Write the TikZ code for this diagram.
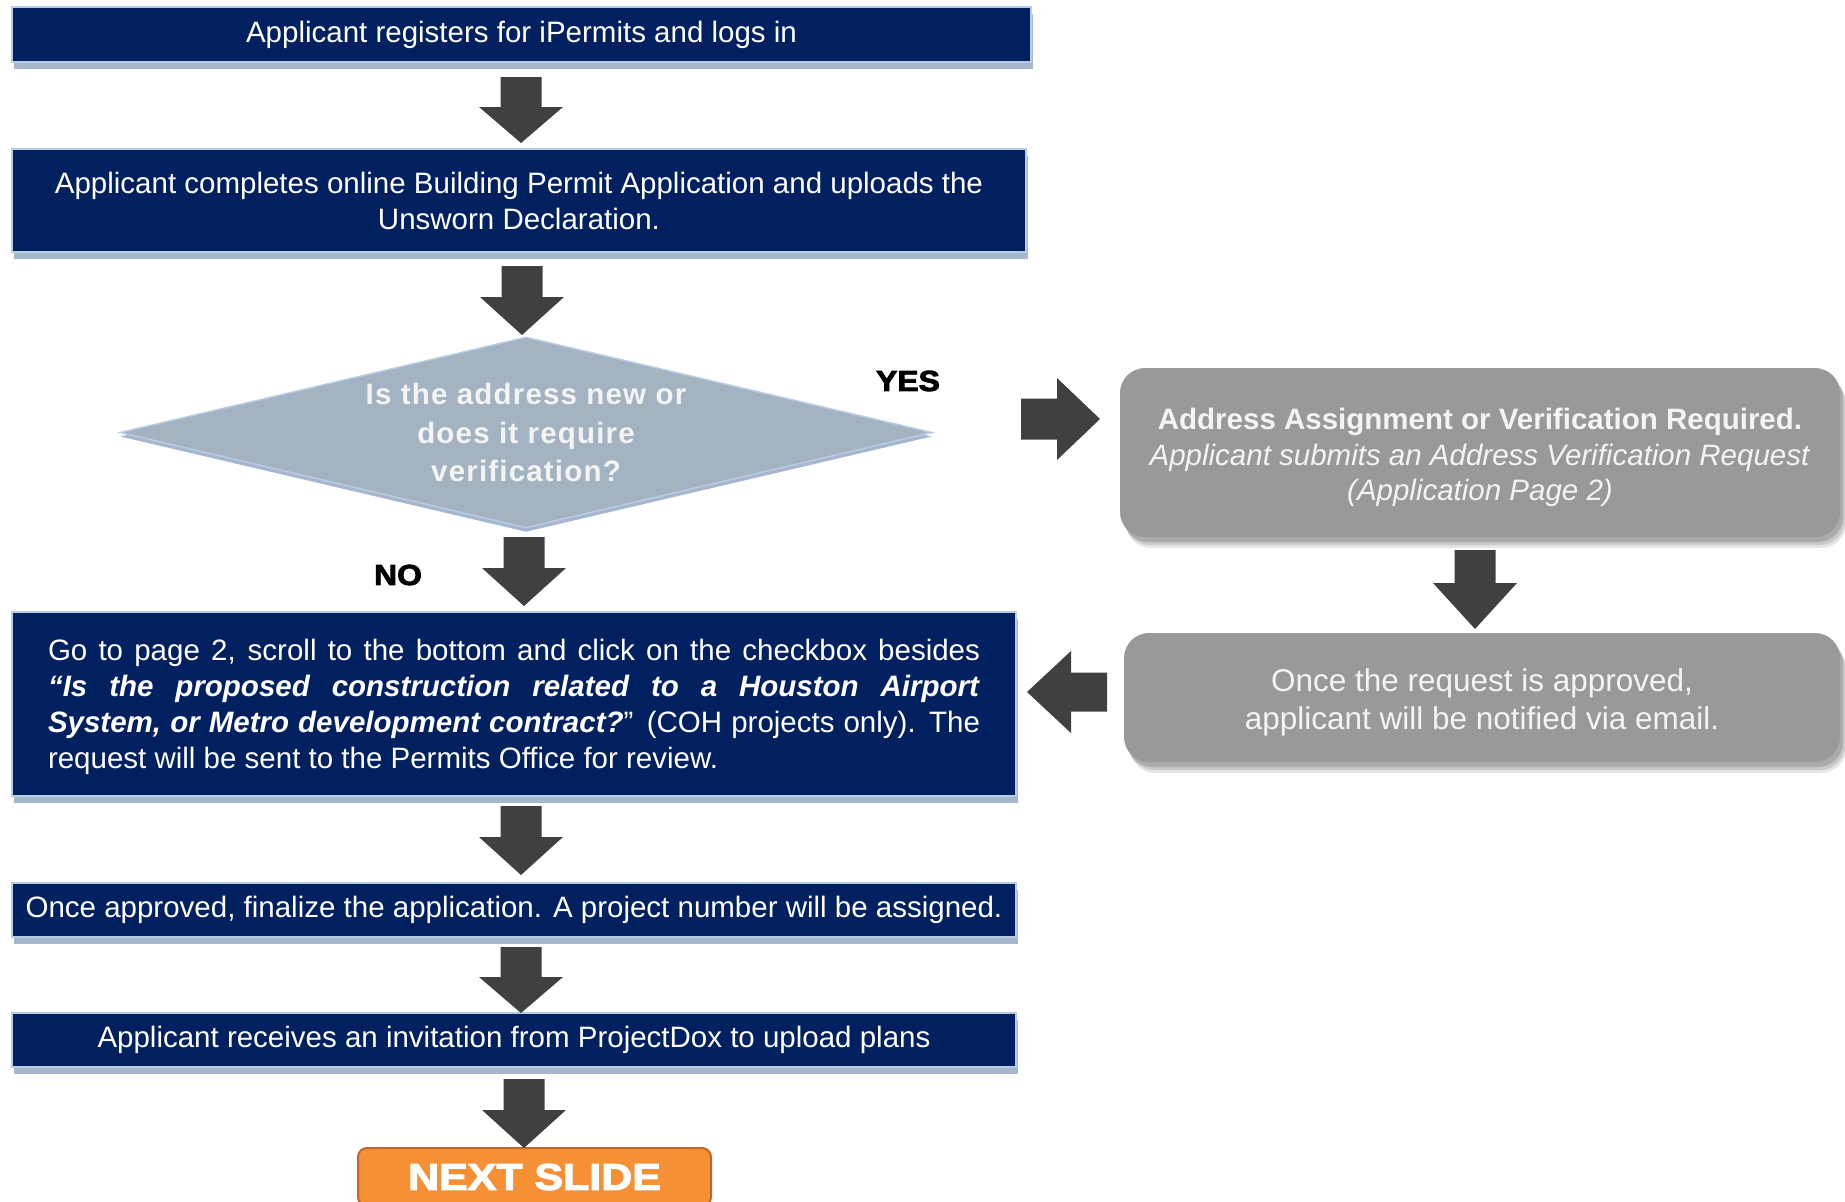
\documentclass[tikz,border=0pt]{standalone}
\usepackage{fontspec}
\setmainfont{Liberation Sans}
\usetikzlibrary{shapes.geometric}
\definecolor{navy}{HTML}{002060}
\definecolor{navyedge}{HTML}{B8CCE4}
\definecolor{navyshadow}{HTML}{A6B6CC}
\definecolor{diafill}{HTML}{A3B3C1}
\definecolor{grayfill}{HTML}{97999B}
\definecolor{arrowc}{HTML}{404040}
\definecolor{orangef}{HTML}{F59035}
\definecolor{oranged}{HTML}{C4662C}
\definecolor{paletext}{HTML}{F4F4F4}
\newcommand\fs[2]{\fontsize{#1}{#2}\selectfont}
\newcommand\dnarrow[4]{\fill[arrowc] ({#1-20.5},#2) -- ({#1+20.5},#2) -- ({#1+20.5},#3) -- ({#1+42},#3) -- (#1,#4) -- ({#1-42},#3) -- ({#1-20.5},#3) -- cycle;}
\begin{document}
\begin{tikzpicture}[x=1pt,y=-1pt,
  navybox/.style={fill=navy, draw=navyedge, line width=2pt, text=white, inner sep=0pt,
    font=\fs{29.5}{36}, align=center,
    preaction={fill=navyshadow, transform canvas={xshift=2pt,yshift=-7pt}}},
  diabox/.style={diamond, fill=diafill, draw=navyedge, line width=1.5pt, inner sep=0pt,
    preaction={fill=navyshadow, transform canvas={yshift=-4pt}}},
  diatext/.style={text=paletext, font=\fs{29.5}{38.5}\bfseries\addfontfeature{LetterSpace=4}, align=center, inner sep=0pt},
  graybox/.style={fill=grayfill, rounded corners=25pt, text=paletext, inner sep=0pt,
    font=\fs{29.5}{36}, align=center,
    preaction={fill=black, opacity=0.10, transform canvas={xshift=6pt,yshift=-11pt}},
    preaction={fill=black, opacity=0.12, transform canvas={xshift=5pt,yshift=-8pt}},
    preaction={fill=black, opacity=0.15, transform canvas={xshift=3pt,yshift=-5pt}}},
  nextbox/.style={fill=orangef, draw=oranged, line width=2pt, rounded corners=9pt, text=white,
    inner sep=0pt, font=\fs{37}{37}\bfseries\addfontfeature{FakeBold=3,FakeStretch=1.16}},
  answer/.style={text=black, inner sep=0pt, font=\fs{29}{29}\bfseries\addfontfeature{FakeBold=3,FakeStretch=1.1}}
]
\useasboundingbox (0,0) rectangle (1845,1202);
\clip (0,0) rectangle (1845,1202);

% main column
\node[navybox, minimum width=1019pt, minimum height=55pt] (b1) at (521.5,34.5)
  {Applicant registers for iPermits and logs in};
\node[navybox, minimum width=1014pt, minimum height=103pt] (b2) at (519,200.5)
  {Applicant completes online Building Permit Application and uploads the\\Unsworn Declaration.};
\node[diabox, minimum width=812pt, minimum height=191pt] (q) at (526,432.5) {};
\node[diatext] (qtext) at (q.center) {Is the address new or\\does it require\\verification?};
\node[navybox, minimum width=1004pt, minimum height=184pt, align=left] (b3) at (514,704)
  {\raisebox{-3pt}[\height][\depth]{\parbox{932pt}{\fs{29.5}{36}%
   \makebox[932pt][s]{Go to page 2, scroll to the bottom and click on the checkbox besides}\\
   \makebox[932pt][s]{\textbf{\textit{“Is the proposed construction related to a Houston Airport}}}\\
   \makebox[932pt][s]{\textbf{\textit{System, or Metro development contract?}}” (COH projects only). The}\\
   request will be sent to the Permits Office for review.}}};
\node[navybox, minimum width=1004pt, minimum height=54pt] (b4) at (514,910)
  {Once approved, finalize the application. A project number will be assigned.};
\node[navybox, minimum width=1004pt, minimum height=54pt] (b5) at (514,1040)
  {Applicant receives an invitation from ProjectDox to upload plans};
\node[nextbox, minimum width=353pt, minimum height=58pt] (next) at (534.5,1177) {NEXT SLIDE};

% right column
\node[graybox, minimum width=720pt, minimum height=169pt] (addr) at (1480,452.5)
  {\raisebox{-5pt}[\height][\depth]{\parbox{700pt}{\centering\fs{29.5}{35.5}\textbf{Address Assignment or Verification Required.}\\
   \textit{Applicant submits an Address Verification Request}\\
   \textit{(Application Page 2)}}}};
\node[graybox, minimum width=716pt, minimum height=129pt] (notify) at (1482,697.5)
  {\raisebox{-5pt}[\height][\depth]{\parbox{700pt}{\centering\fs{31.5}{37.5}Once the request is approved,\\applicant will be notified via email.}}};

% labels
\node[answer] (yes) at (908,381) {YES};
\node[answer] (no) at (398,575) {NO};

% block arrows
\dnarrow{521}{77}{107}{143}
\dnarrow{522}{266}{297}{335}
\dnarrow{524}{537}{568}{606}
\dnarrow{521}{806}{837}{875}
\dnarrow{521}{947}{977}{1013}
\dnarrow{524}{1079}{1110}{1148}
\dnarrow{1475}{550}{583}{629}
\fill[arrowc] (1021,398.5) -- (1057,398.5) -- (1057,378) -- (1100,419) -- (1057,460) -- (1057,439.5) -- (1021,439.5) -- cycle;
\fill[arrowc] (1107,672.5) -- (1071,672.5) -- (1071,651) -- (1027,692) -- (1071,733) -- (1071,711.5) -- (1107,711.5) -- cycle;
\end{tikzpicture}
\end{document}
